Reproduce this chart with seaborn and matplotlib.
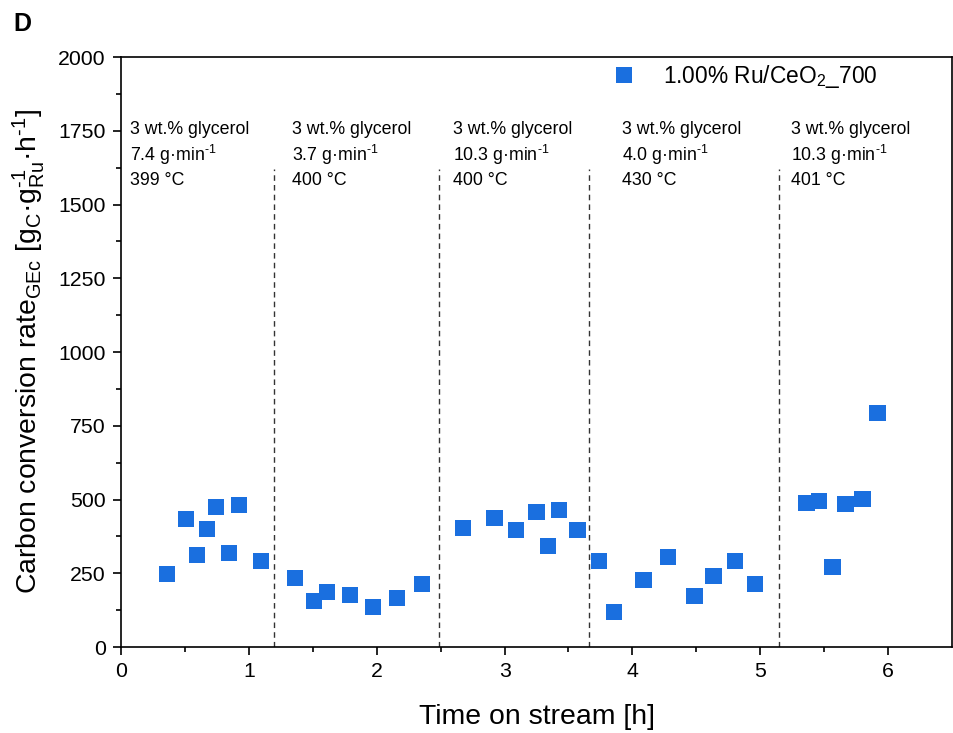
import numpy as np
import pandas as pd
import matplotlib
matplotlib.use("Agg")
import matplotlib.pyplot as plt
import seaborn as sns

# Data
time_h = [0.36, 0.51, 0.595, 0.673, 0.743, 0.845, 0.923, 1.095,
          1.36, 1.51, 1.61, 1.79, 1.97, 2.16, 2.355,
          2.676, 2.92, 3.09, 3.25, 3.34, 3.425, 3.57,
          3.74, 3.855, 4.087, 4.28, 4.486, 4.635, 4.80, 4.96,
          5.36, 5.46, 5.565, 5.665, 5.80, 5.915]
rate = [247, 434, 312, 400, 475, 319, 481, 292,
        234, 156, 186, 176, 136, 166, 213,
        403, 437, 397, 458, 342, 464, 397,
        291, 119, 227, 305, 173, 241, 291, 213,
        488, 495, 271, 485, 502, 793]
series_name = "1.00% Ru/CeO$_2$_700"

boundaries = [1.2, 2.49, 3.66, 5.146]
cond_x = [0.07, 1.34, 2.6, 3.92, 5.24]
cond_feed = ["3 wt.% glycerol"] * 5
cond_flow = ["7.4", "3.7", "10.3", "4.0", "10.3"]
cond_temp = ["399 °C", "400 °C", "400 °C", "430 °C", "401 °C"]

df = pd.DataFrame({"t": time_h, "r": rate, "s": series_name})

sns.set_style("ticks")
plt.rcParams['font.family'] = ['Liberation Sans', 'DejaVu Sans']
plt.rcParams['mathtext.fontset'] = 'custom'
plt.rcParams['mathtext.rm'] = 'Liberation Sans'
plt.rcParams['mathtext.it'] = 'Liberation Sans'
plt.rcParams['mathtext.bf'] = 'Liberation Sans:bold'
for k in ['text.color', 'axes.labelcolor', 'xtick.color', 'ytick.color', 'axes.edgecolor']:
    plt.rcParams[k] = 'black'

fig = plt.figure(figsize=(9.54, 7.33), dpi=100)
ax = fig.add_axes([0.1268, 0.1173, 0.998 - 0.1268, 0.9222 - 0.1173])

sns.scatterplot(data=df, x="t", y="r", hue="s", palette=["#1a6fdf"],
                marker="s", s=140, linewidth=0, ax=ax, zorder=3)

for b in boundaries:
    ax.plot([b, b], [0, 1620], ls=(0, (4, 3)), color="#333333", lw=1.0, zorder=2)

for x, f, fl, t in zip(cond_x, cond_feed, cond_flow, cond_temp):
    ax.text(x, 1753, f, fontsize=12.8, va="center", ha="left")
    ax.text(x, 1668, fl + " g·min$^{\\mathregular{\u2010}\\mathregular{1}}$", fontsize=12.8, va="center", ha="left")
    ax.text(x, 1580, t, fontsize=12.8, va="center", ha="left")

ax.set_xlim(0, 6.5)
ax.set_ylim(0, 2000)
ax.set_xticks([0, 1, 2, 3, 4, 5, 6])
ax.set_xticks(np.arange(0.5, 6.5, 1.0), minor=True)
ax.set_yticks(np.arange(0, 2001, 250))
ax.set_yticks(np.arange(125, 2000, 250), minor=True)
ax.tick_params(axis="both", which="major", direction="out", length=6, width=1.2, labelsize=15.3)
ax.tick_params(axis="x", which="major", pad=5)
ax.tick_params(axis="y", which="major", pad=5)
ax.tick_params(axis="both", which="minor", direction="out", length=3.5, width=1.2)
for sp in ax.spines.values():
    sp.set_linewidth(1.2)
    sp.set_color("black")

ax.set_xlabel("Time on stream [h]", fontsize=20.4, labelpad=16)
ax.set_ylabel("Carbon conversion rate$_{\\mathregular{GEc}}$ [g$_{\\mathregular{C}}$·g$_{\\mathregular{Ru}}^{\\mathregular{\u2010}\\mathregular{1}}$·h$^{\\mathregular{\u2010}\\mathregular{1}}$]",
              fontsize=20.4, labelpad=8)

leg = ax.legend(loc="upper right", bbox_to_anchor=(0.935, 1.025), frameon=False,
                fontsize=16.4, markerscale=1.0, handletextpad=0.7)
ax.get_legend().set_title(None)

fig.text(13 / 954, 1 - 24 / 733, "D", fontsize=18, fontweight="bold", va="center", ha="left")

fig.savefig("out.png", dpi=100)
